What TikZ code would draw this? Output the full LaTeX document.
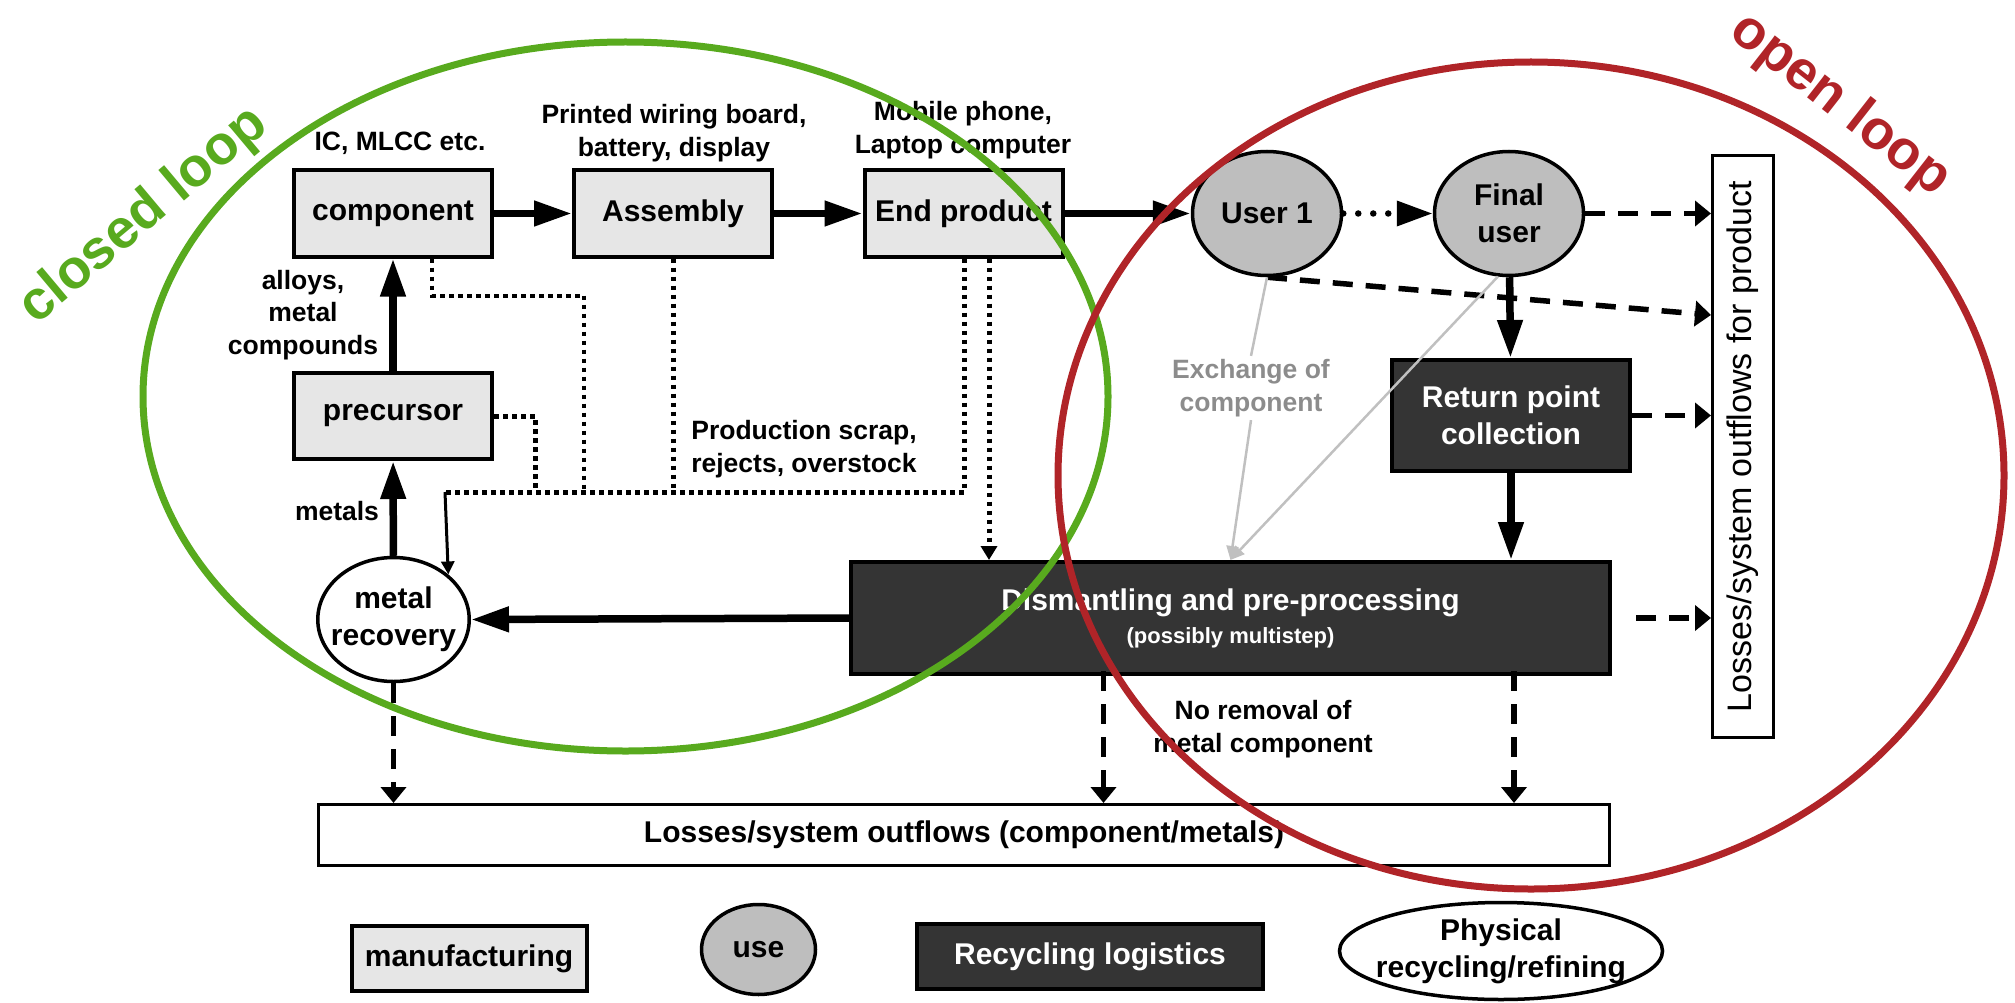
\documentclass[tikz,border=0pt]{standalone}
\usepackage{fontspec}
\setmainfont{Liberation Sans}
\usetikzlibrary{arrows.meta, shapes.geometric, calc}
\definecolor{mfgray}{RGB}{230,230,230}
\definecolor{usegray}{RGB}{190,190,190}
\definecolor{recdark}{RGB}{52,52,52}
\definecolor{loopgreen}{RGB}{88,170,30}
\definecolor{loopred}{RGB}{176,36,40}
\definecolor{xtext}{RGB}{140,140,140}
\definecolor{xline}{RGB}{192,192,192}
\newcommand{\lblfont}{\bfseries\fontsize{26.5}{32.5}\selectfont}
\newcommand{\boxfont}{\bfseries\fontsize{30}{37}\selectfont}
\newcommand{\loopfont}{\bfseries\fontsize{55}{62}\selectfont}
\tikzset{
    mfbox/.style={draw, line width=4pt, fill=mfgray, minimum width=198pt,
        minimum height=86pt, font=\boxfont},
    usenode/.style={ellipse, draw, line width=3.5pt, fill=usegray, inner sep=0pt,
        minimum width=149pt, minimum height=124pt, align=center, font=\boxfont},
    recbox/.style={draw, line width=4pt, fill=recdark, text=white, align=center,
        font=\boxfont},
    refnode/.style={ellipse, draw, line width=3.5pt, fill=white, inner ysep=0pt,
        align=center, font=\boxfont},
    lossbox/.style={draw, line width=3pt, fill=white},
    lbl/.style={align=center, font=\lblfont},
    mainflow/.style={line width=7.5pt, -{Triangle[length=38pt,width=24pt]}},
    lossflow/.style={line width=5.5pt, dash pattern=on 20pt off 13pt,
        -{Triangle[length=16pt,width=25pt]}},
    scrapflow/.style={line width=5pt, dash pattern=on 4.5pt off 4.5pt},
    xflow/.style={xline, line width=2.5pt}
}

\begin{document}
\begin{tikzpicture}[x=1pt, y=-1pt]
    \useasboundingbox (0,0) rectangle (2015,1003);

    \node[mfbox] (component) at (393,213.5) {component};
    \node[mfbox] (assembly) at (673,213.5) {Assembly};
    \node[mfbox] (endprod) at (963.5,213.5) {End product};
    \node[mfbox] (precursor) at (393,416) {precursor};
    \node[usenode] (user1) at (1267,213.5) {User 1};
    \node[usenode] (finaluser) at (1509,213.5) {Final\\user};
    \node[recbox, minimum width=238pt, minimum height=111pt] (retpoint) at (1511,415.5)
        {Return point\\collection};
    \node[recbox, minimum width=759pt, minimum height=112pt] (dismant) at (1230.5,618)
        {Dismantling and pre-processing\\[-4pt]{\fontsize{22}{26}\selectfont (possibly multistep)}};
    \node[refnode, inner xsep=-9pt, minimum width=150pt, minimum height=124pt] (metalrec)
        at (393.5,619.5) {metal\\recovery};
    \node[lossbox, minimum width=1291pt, minimum height=61pt, font=\boxfont] (mloss)
        at (964,835) {Losses/system outflows (component/metals)};
    \node[lossbox, minimum width=582pt, minimum height=61pt, rotate=90,
        font=\fontsize{34}{40}\selectfont] (prodloss) at (1743,446.5)
        {Losses/system outflows for product};

    \node[lbl] (lblic) at (400,143) {IC, MLCC etc.};
    \node[lbl] (lblpwb) at (674,133) {Printed wiring board,\\battery, display};
    \node[lbl] (lblmob) at (963,130) {Mobile phone,\\Laptop computer};
    \node[lbl] (lblalloy) at (303,315) {alloys,\\metal\\compounds};
    \node[lbl] (lblmetals) at (337,511) {metals};
    \node[lbl] (lblscrap) at (804,449) {Production scrap,\\rejects, overstock};
    \node[lbl] (lblnorem) at (1263,729) {No removal of\\metal component};
    \node[lbl, text=xtext] (exch) at (1251,388) {Exchange of\\component};

    \draw[mainflow] (component) -- (assembly);
    \draw[mainflow] (assembly) -- (endprod);
    \draw[mainflow] (endprod) -- (user1);
    \draw[line width=6.5pt, dash pattern=on 0pt off 15pt, line cap=round,
        -{Triangle[length=36pt,width=24pt]}] (user1) -- (finaluser);
    \draw[mainflow] (finaluser) -- (retpoint);
    \draw[mainflow] (retpoint.south) -- (retpoint.south |- dismant.north);
    \draw[mainflow] (dismant.west) -- (metalrec.east);
    \draw[mainflow] (metalrec) -- (precursor);
    \draw[mainflow] (precursor) -- (component);

    \coordinate (uloss) at (1711,315);
    \draw[lossflow] (finaluser.east) -- (finaluser.east -| prodloss.north);
    \draw[lossflow] (user1.south) -- (uloss);
    \draw[lossflow] (retpoint.east) -- (retpoint.east -| prodloss.north);
    \draw[lossflow] ([xshift=24pt]dismant.east) -- (dismant.east -| prodloss.north);
    \draw[lossflow] ([shift={(-127pt,5pt)}]dismant.south) -- ([xshift=-127pt]dismant.south |- mloss.north);
    \draw[lossflow] ([shift={(283.5pt,5pt)}]dismant.south) -- ([xshift=283.5pt]dismant.south |- mloss.north);
    \draw[lossflow] (metalrec.south) -- (metalrec.south |- mloss.north);

    \coordinate (scrapjoin) at (445,492);
    \draw[scrapflow, line width=4pt] ([xshift=39pt]component.south) -- ++(0,37) -| (584,492);
    \draw[scrapflow] (precursor.east) -| (535,492);
    \draw[scrapflow] (assembly.south) -- (assembly.south |- scrapjoin);
    \draw[scrapflow] ([xshift=0.5pt]endprod.south) |- (scrapjoin);
    \draw[line width=3pt, -{Triangle[length=13pt,width=13pt]}] (scrapjoin) -- (metalrec.north east);
    \draw[scrapflow, -{Triangle[length=14pt,width=16pt]}] ([xshift=25.5pt]endprod.south)
        -- ([xshift=25.5pt]endprod.south |- dismant.north);

    \draw[xflow] (user1.south) -- (exch.north);
    \draw[xflow, -{Triangle[length=14pt,width=12pt]}] (exch.south) -- (dismant.north);
    \draw[xflow, -{Triangle[length=14pt,width=12pt]}] (finaluser.-100) -- (dismant.north);

    \node[mfbox, minimum width=235pt, minimum height=65pt] (legmf) at (469,958.5) {manufacturing};
    \node[usenode, minimum width=114pt, minimum height=90pt] (leguse) at (758.5,949.5) {use};
    \node[recbox, minimum width=346pt, minimum height=65pt] (legrec) at (1090,956.5)
        {Recycling logistics};
    \node[refnode, inner xsep=-17pt, minimum width=323pt, minimum height=97pt] (legref)
        at (1501,951) {Physical\\recycling/refining};

    \draw[loopgreen, line width=7pt] (625.5,396.5) ellipse [x radius=482.5pt, y radius=354.5pt];
    \draw[loopred, line width=7pt] (1531,475.5) ellipse [x radius=473pt, y radius=413.5pt];
    \node[text=loopgreen, font=\loopfont, rotate=40, inner sep=0pt] (closedtxt) at (144,216) {closed loop};
    \node[text=loopred, font=\loopfont, rotate=-38, inner sep=0pt] (opentxt) at (1840,105) {open loop};
\end{tikzpicture}
\end{document}
